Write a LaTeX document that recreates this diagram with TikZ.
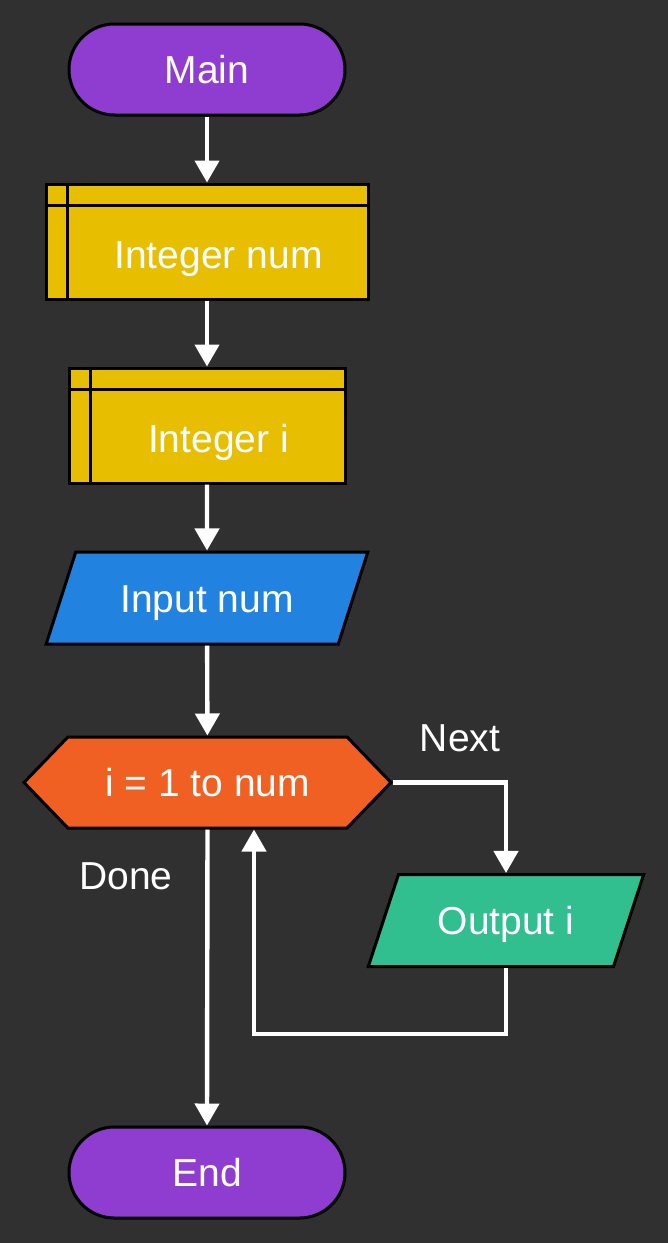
\documentclass[tikz,border=0pt]{standalone}
\usepackage{fontspec}
\setmainfont{Liberation Sans}
\usetikzlibrary{shapes.geometric,shapes.symbols,arrows.meta}

\definecolor{bgcol}{RGB}{48,48,48}
\definecolor{termcol}{RGB}{143,61,209}
\definecolor{storecol}{RGB}{232,190,0}
\definecolor{iocol}{RGB}{33,130,224}
\definecolor{loopcol}{RGB}{240,96,34}
\definecolor{outcol}{RGB}{49,191,143}

\begin{document}
\begin{tikzpicture}[x=0.5pt,y=-0.5pt,
    every node/.style={font=\fontsize{19.5}{23}\selectfont, text=white,
        text height=14pt, text depth=0pt},
    shape base/.style={draw=black, line width=1.5pt},
    terminal/.style={shape base, fill=termcol, rectangle, rounded corners=22.75pt,
        minimum width=138pt, minimum height=45.5pt},
    storebox/.style={shape base, fill=storecol, rectangle, minimum height=57.5pt},
    iobox/.style={shape base, trapezium, trapezium left angle=63, trapezium right angle=117,
        trapezium stretches=true, minimum width=161pt, minimum height=46pt},
    loopbox/.style={shape base, fill=loopcol, signal, signal to=west and east,
        signal pointer angle=92, minimum width=183.5pt, minimum height=45.5pt},
    flow/.style={draw=white, line width=2.2pt, -{Triangle[width=12pt,length=11pt]}}]
    % background
    \fill[bgcol] (0,0) rectangle (668,1243);
    \useasboundingbox (0,0) rectangle (668,1243);

    \node[terminal] (main) at (207,69.5) {Main};

    \node[storebox, minimum width=161pt] (num) at (207,241.5) {};
    \node (numtxt) at (218.5,254) {Integer num};
    \draw[line width=1.5pt] ([xshift=11.5pt]num.north west) -- ([xshift=11.5pt]num.south west);
    \draw[line width=1.5pt] ([yshift=-11.5pt]num.north west) -- ([yshift=-11.5pt]num.north east);

    \node[storebox, minimum width=138pt] (ival) at (207,425.5) {};
    \node (ivaltxt) at (218.5,438) {Integer i};
    \draw[line width=1.5pt] ([xshift=11.5pt]ival.north west) -- ([xshift=11.5pt]ival.south west);
    \draw[line width=1.5pt] ([yshift=-11.5pt]ival.north west) -- ([yshift=-11.5pt]ival.north east);

    \node[iobox, fill=iocol] (inp) at (207,598) {Input num};

    \node[loopbox] (loop) at (207.5,782.5) {i = 1 to num};

    \node[iobox, fill=outcol, minimum width=138pt] (out) at (506,920.5) {Output i};

    \node[terminal] (end) at (207,1172.5) {End};

    \node (next) at (460,737) {Next};
    \node (done) at (126,875) {Done};
    \coordinate (back) at (254,1034);

    % connectors
    \draw[flow] (main) -- (num);
    \draw[flow] (num) -- (ival);
    \draw[flow] (ival) -- (inp);
    \draw[flow] (inp) -- (loop);
    \draw[flow] (loop.east) -| (out.north);
    \draw[flow] (out.south) |- (back) -- (back |- loop.south);
    \draw[flow] (loop.south) -- (end.north);
\end{tikzpicture}
\end{document}
